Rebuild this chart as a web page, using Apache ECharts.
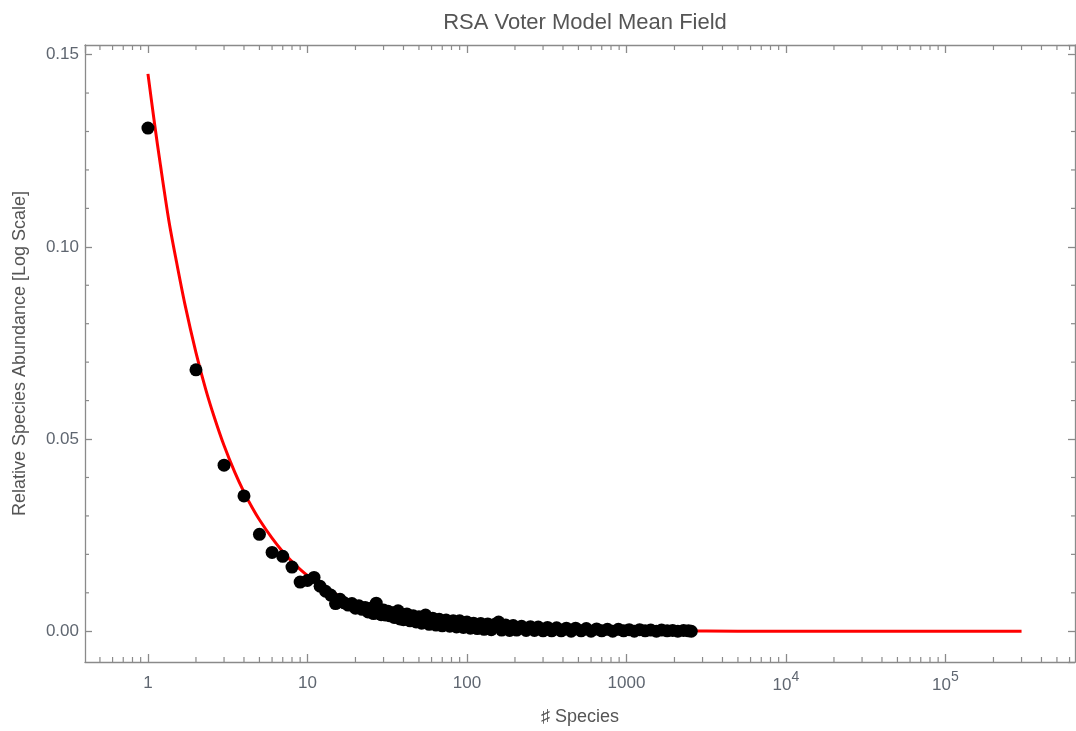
<!DOCTYPE html>
<html>
<head>
<meta charset="utf-8">
<script src="https://cdn.jsdelivr.net/npm/echarts@6/dist/echarts.min.js"></script>
<style>
  html, body { margin: 0; padding: 0; background: #fff; }
  #main { width: 1076px; height: 731px; }
</style>
</head>
<body>
<div id="main"></div>
<script>
// simulated RSA (black dots): species count n -> relative abundance
var dotN = [1,2,3,4,5,6,7,8,9,10,11,12,13,14,15,16,17,18,19,20,21,22,23,24,25,26,27,28,29,30,
  31,32,33,34,35,36,37,38,39,40,42,44,46,48,50,52,55,58,61,64,67,70,74,78,82,86,90,95,100,105,
  110,116,122,128,135,142,150,158,165,175,185,195,205,220,235,250,265,280,300,320,340,365,390,420,450,480,
  520,560,600,650,700,760,820,890,960,1040,1120,1210,1310,1420,1540,1660,1800,1950,2100,2280,2450,2550];
var dotV = [0.1309,0.0680,0.0432,0.0352,0.0252,0.0205,0.0195,0.0167,0.0128,0.0132,0.0140,0.0117,0.0104,0.0094,0.0072,0.0083,0.0074,0.0068,0.0072,0.0060,
  0.0066,0.0057,0.0062,0.0050,0.0060,0.0046,0.0073,0.0052,0.0043,0.0055,
  0.0042,0.0052,0.0040,0.0048,0.0036,0.0046,0.0053,0.0032,0.0044,0.0030,0.0045,0.0027,0.0040,0.0024,0.0038,0.0021,0.0042,0.0018,0.0034,0.0016,
  0.0031,0.0014,0.0029,0.0013,0.0027,0.0011,0.0027,0.0010,0.0024,0.0008,
  0.0021,0.0007,0.0020,0.0005,0.0019,0.0004,0.0018,0.0024,0.0003,0.0016,0.0002,0.0015,0.0003,0.0013,0.0002,0.0012,0.0002,0.0011,0.0001,0.0010,0.0001,0.0009,0.0001,0.0008,0.0000,0.0008,
  0.0001,0.0007,0.0000,0.0006,0.0001,0.0005,0.0000,0.0005,0.0001,0.0004,0.0000,0.0004,0.0001,0.0003,0.0000,0.0003,0.0001,0.0002,0.0000,0.0002,0.0001,0.0000];

// mean field prediction (red curve)
var curveN = [1,1.1,1.2,1.35,1.5,1.7,2,2.3,2.6,3,3.5,4,4.5,5,6,7,8,9,10,12,14,17,20,25,30,40,50,70,100,150,200,300,500,1000,2000,5000,10000,30000,100000,300000];
var curveV = [0.145,0.132,0.121,0.107,0.0967,0.0853,0.0725,0.063,0.0558,0.0483,0.0414,0.0362,0.0322,0.029,0.0242,0.0207,0.0181,0.0161,0.0145,0.0121,
  0.0104,0.0085,0.0073,0.0058,0.0048,0.0036,0.0029,0.0021,0.0015,0.001,0.0007,0.0005,0.0003,0.00015,0.00007,0.00003,0.00001,0,0,0];

var yMinorTicks = [0.01,0.02,0.03,0.04,0.06,0.07,0.08,0.09,0.11,0.12,0.13,0.14];

var xMin = 0.403, xMax = 649000;
var yMin = -0.008, yMax = 0.1525;
var axisCol = '#8a8a8a', labelCol = '#5f6670', font = 'Liberation Sans';

var myChart = echarts.init(document.getElementById('main'));

function xLabel(v) {
  var k = Math.round(Math.log10(v));
  if (k <= 3) return '{n|' + Math.pow(10, k) + '}';
  return '{b|10}{s|' + k + '}';
}

var frameLine = { show: true, onZero: false, lineStyle: { color: axisCol, width: 1.3 } };

myChart.setOption({
  animation: false,
  title: {
    text: 'RSA Voter Model Mean Field',
    left: 580, top: 7, textAlign: 'center',
    textStyle: { fontFamily: font, fontSize: 22, fontWeight: 'normal', color: '#555' }
  },
  grid: { left: 85, right: 1, top: 45, bottom: 69 },
  xAxis: [
    {
      type: 'log', logBase: 10, min: xMin, max: xMax, position: 'bottom',
      name: '♯ Species', nameLocation: 'middle', nameGap: 46,
      nameTextStyle: { fontFamily: font, fontSize: 18, color: '#555' },
      axisLine: frameLine,
      axisTick: { show: true, inside: true, length: 8, lineStyle: { color: axisCol, width: 1.3 } },
      axisLabel: {
        showMinLabel: false, showMaxLabel: false, margin: 8,
        formatter: xLabel,
        rich: {
          n: { fontFamily: font, fontSize: 17, color: labelCol, lineHeight: 22, verticalAlign: 'bottom' },
          b: { fontFamily: font, fontSize: 17, color: labelCol, lineHeight: 24, verticalAlign: 'bottom' },
          s: { fontFamily: font, fontSize: 14, color: labelCol, lineHeight: 14, verticalAlign: 'top' }
        }
      },
      splitLine: { show: false }
    },
    {
      type: 'log', logBase: 10, min: xMin, max: xMax, position: 'top',
      axisLine: frameLine,
      axisTick: { show: true, inside: true, length: 8, lineStyle: { color: axisCol, width: 1.3 } },
      axisLabel: { show: false },
      splitLine: { show: false }
    }
  ],
  yAxis: [
    {
      type: 'value', min: yMin, max: yMax, splitNumber: 3, position: 'left',
      name: 'Relative Species Abundance [Log Scale]', nameLocation: 'middle', nameGap: 56,
      nameTextStyle: { fontFamily: font, fontSize: 18, color: '#555' },
      axisLine: frameLine,
      axisTick: { show: true, inside: true, length: 7, lineStyle: { color: axisCol, width: 1.3 } },
      axisLabel: {
        showMinLabel: false, showMaxLabel: false, margin: 6,
        fontFamily: font, fontSize: 17, color: labelCol,
        formatter: function (v) { return v.toFixed(2); }
      },
      splitLine: { show: false }
    },
    {
      type: 'value', min: yMin, max: yMax, splitNumber: 3, position: 'right',
      axisLine: frameLine,
      axisTick: { show: true, inside: true, length: 7, lineStyle: { color: axisCol, width: 1.3 } },
      axisLabel: { show: false },
      splitLine: { show: false }
    }
  ],
  series: [
    {
      name: 'mean field', type: 'line', xAxisIndex: 0, yAxisIndex: 0,
      data: curveN.map(function (n, i) { return [n, curveV[i]]; }),
      showSymbol: false, smooth: 0.3,
      lineStyle: { color: '#ff0000', width: 3 }, z: 2
    },
    {
      name: 'simulation', type: 'scatter', xAxisIndex: 0, yAxisIndex: 0,
      data: dotN.map(function (n, i) { return [n, dotV[i]]; }),
      symbolSize: 13, itemStyle: { color: '#000', opacity: 1 }, z: 3
    }
  ]
});

// Mathematica style minor ticks, placed through the chart's own scales
var g = [];
var gTop = 45, gBottom = 731 - 69, gLeft = 85, gRight = 1076 - 1;
for (var k = -1; k <= 5; k++) {
  for (var m = 2; m <= 9; m++) {
    var v = m * Math.pow(10, k);
    if (v <= xMin || v >= xMax) continue;
    var px = myChart.convertToPixel({ xAxisIndex: 0 }, v);
    g.push({ type: 'line', shape: { x1: px, y1: gBottom, x2: px, y2: gBottom - 5 }, style: { stroke: axisCol, lineWidth: 1.2 } });
    g.push({ type: 'line', shape: { x1: px, y1: gTop, x2: px, y2: gTop + 5 }, style: { stroke: axisCol, lineWidth: 1.2 } });
  }
}
yMinorTicks.forEach(function (v) {
  var py = myChart.convertToPixel({ yAxisIndex: 0 }, v);
  g.push({ type: 'line', shape: { x1: gLeft, y1: py, x2: gLeft + 4, y2: py }, style: { stroke: axisCol, lineWidth: 1.2 } });
  g.push({ type: 'line', shape: { x1: gRight, y1: py, x2: gRight - 4, y2: py }, style: { stroke: axisCol, lineWidth: 1.2 } });
});
myChart.setOption({ graphic: g });
</script>
</body>
</html>
